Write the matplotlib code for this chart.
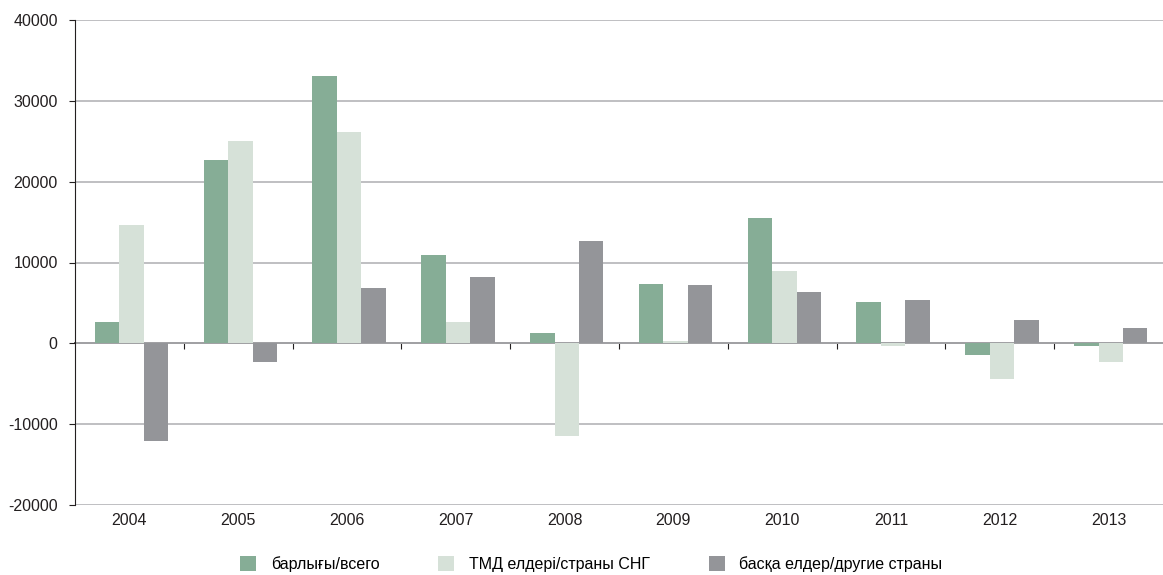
import numpy as np
import matplotlib.pyplot as plt

plt.rcParams['font.family'] = ['Liberation Sans', 'DejaVu Sans']
plt.rcParams['axes.unicode_minus'] = False

years = ['2004', '2005', '2006', '2007', '2008', '2009', '2010', '2011', '2012', '2013']
total = [2700, 22700, 33100, 10900, 1250, 7400, 15500, 5100, -1450, -300]
cis = [14700, 25000, 26100, 2700, -11500, 300, 8900, -300, -4400, -2300]
other = [-12100, -2350, 6800, 8200, 12600, 7200, 6400, 5300, 2850, 1850]
labels = ['барлығы/всего', 'ТМД елдері/страны СНГ', 'басқа елдер/другие страны']
colors = ['#86ad96', '#d6e1d8', '#949599']

fig = plt.figure(figsize=(11.63, 5.75), dpi=100)
ax = fig.add_axes([75 / 1163, 70 / 575, 1 - 75 / 1163, 485 / 575])

x = np.arange(len(years))
w = 0.225
for i, (vals, c, lab) in enumerate(zip([total, cis, other], colors, labels)):
    ax.bar(x + (i - 1) * w + 0.02, vals, width=w, color=c, label=lab, zorder=3)

ax.set_xlim(-0.5, len(years) - 0.5)
ax.set_ylim(-20000, 40000)
ax.set_yticks(np.arange(-20000, 40001, 10000))
ax.yaxis.grid(True, color='#b4b4b8', linewidth=1.2, zorder=0)
ax.tick_params(axis='y', labelsize=11.5, colors='#231f20', length=4, pad=8.5, direction='out')

ax.set_xticks(x)
ax.set_xticklabels(years)
ax.tick_params(axis='x', length=0, labelsize=11.5, pad=6, colors='#231f20')

for s in ['top', 'right', 'bottom']:
    ax.spines[s].set_visible(False)
ax.spines['left'].set_color('#231f20')

# zero line with ticks at group borders
sec = ax.secondary_xaxis(1 / 3)
sec.set_xticks(np.arange(0.5, len(years) - 0.5, 1))
sec.set_xticklabels([])
sec.tick_params(axis='x', length=4, direction='out', color='#231f20')
sec.spines['bottom'].set_color('#231f20')
sec.spines['bottom'].set_linewidth(1.2)

fig.legend(loc='center', bbox_to_anchor=(0.5085, 11 / 575), ncol=3, frameon=False,
           handlelength=1.0, handleheight=1.0, handletextpad=0.9, columnspacing=3.7,
           fontsize=11.5)

plt.savefig('out.png')
